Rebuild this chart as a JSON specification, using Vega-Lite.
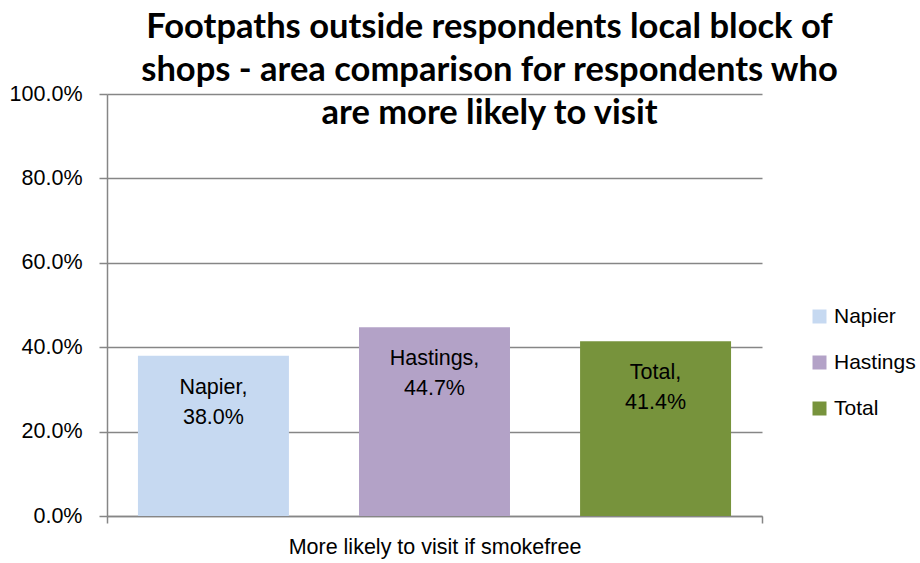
{
  "$schema": "https://vega.github.io/schema/vega-lite/v6.json",
  "autosize": {"type": "none"},
  "width": 655,
  "height": 422,
  "padding": {"left": 107, "top": 94, "right": 158, "bottom": 47},
  "background": "white",
  "title": {
    "text": ["Footpaths outside respondents local block of", "shops - area comparison for respondents who", "are more likely to visit"],
    "font": "Lato",
    "fontWeight": "bold",
    "fontSize": 34.5,
    "lineHeight": 43,
    "color": "#000000",
    "anchor": "middle",
    "frame": "group",
    "dx": 55,
    "baseline": "alphabetic",
    "offset": 0,
    "dy": 75
  },
  "data": {
    "values": [
      {"group": "More likely to visit if smokefree", "series": "Napier", "value": 0.38},
      {"group": "More likely to visit if smokefree", "series": "Hastings", "value": 0.447},
      {"group": "More likely to visit if smokefree", "series": "Total", "value": 0.414}
    ]
  },
  "transform": [
    {"calculate": "datum.series + ',\\n' + format(datum.value, '.1%')", "as": "label"}
  ],
  "encoding": {
    "x": {
      "field": "group",
      "type": "nominal",
      "title": null,
      "axis": {
        "labelAngle": 0,
        "labelFont": "Liberation Sans",
        "labelFontSize": 21.5,
        "labelColor": "#000000",
        "labelPadding": 13,
        "labelLimit": 0,
        "tickBand": "extent",
        "tickSize": 7,
        "tickColor": "#868686",
        "tickWidth": 1.5,
        "domainColor": "#868686",
        "domainWidth": 1.5,
        "grid": false
      },
      "scale": {"paddingInner": 0, "paddingOuter": 0}
    },
    "xOffset": {
      "field": "series",
      "type": "nominal",
      "sort": ["Napier", "Hastings", "Total"],
      "scale": {"paddingInner": 0.317, "paddingOuter": 0.14}
    },
    "y": {
      "field": "value",
      "type": "quantitative",
      "title": null,
      "scale": {"domain": [0, 1], "nice": false},
      "axis": {
        "values": [0, 0.2, 0.4, 0.6, 0.8, 1],
        "format": ".1%",
        "labelFont": "Liberation Sans",
        "labelFontSize": 21.5,
        "labelColor": "#000000",
        "labelPadding": 17,
        "tickSize": 8,
        "tickColor": "#868686",
        "tickWidth": 1.5,
        "domainColor": "#868686",
        "domainWidth": 1.5,
        "gridColor": "#868686",
        "gridWidth": 1.5
      }
    }
  },
  "layer": [
    {
      "mark": {"type": "bar"},
      "encoding": {
        "color": {
          "field": "series",
          "type": "nominal",
          "sort": ["Napier", "Hastings", "Total"],
          "scale": {"domain": ["Napier", "Hastings", "Total"], "range": ["#C6D9F1", "#B3A2C7", "#77933C"]},
          "legend": {
            "title": null,
            "orient": "none",
            "legendX": 702,
            "legendY": 212,
            "symbolType": "square",
            "symbolSize": 196,
            "symbolStrokeWidth": 0,
            "labelFont": "Liberation Sans",
            "labelFontSize": 21,
            "labelColor": "#000000",
            "labelOffset": 4,
            "labelLimit": 0,
            "rowPadding": 24
          }
        }
      }
    },
    {
      "mark": {
        "type": "text",
        "align": "center",
        "baseline": "alphabetic",
        "dy": 38,
        "lineHeight": 30,
        "lineBreak": "\n",
        "font": "Liberation Sans",
        "fontSize": 21.5,
        "color": "#000000"
      },
      "encoding": {
        "text": {"field": "label"}
      }
    }
  ],
  "config": {
    "view": {"stroke": null}
  }
}
